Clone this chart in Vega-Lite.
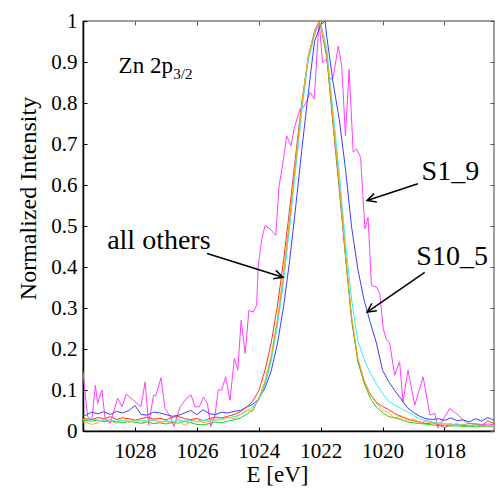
{
 "$schema": "https://vega.github.io/schema/vega-lite/v6.json",
 "width": 411, "height": 410,
 "autosize": {"type": "none"},
 "padding": {"left": 83, "top": 21, "right": 6, "bottom": 60},
 "background": "white",
 "config": {"view": {"stroke": "#7f7f7f", "strokeWidth": 1.5}, "font": "Liberation Serif, Times New Roman, Times, serif"},
 "datasets": {
  "spectra": [
   {"s":"S10_5","E":1029.8,"I":0.036},{"s":"S10_5","E":1029.6,"I":0.038},{"s":"S10_5","E":1029.4,"I":0.046},{"s":"S10_5","E":1029.2,"I":0.042},{"s":"S10_5","E":1029.0,"I":0.047},{"s":"S10_5","E":1028.8,"I":0.04},{"s":"S10_5","E":1028.6,"I":0.048},{"s":"S10_5","E":1028.4,"I":0.044},{"s":"S10_5","E":1028.2,"I":0.05},{"s":"S10_5","E":1028.0,"I":0.062},{"s":"S10_5","E":1027.8,"I":0.04},{"s":"S10_5","E":1027.6,"I":0.039},{"s":"S10_5","E":1027.4,"I":0.046},{"s":"S10_5","E":1027.2,"I":0.044},{"s":"S10_5","E":1027.0,"I":0.04},{"s":"S10_5","E":1026.8,"I":0.036},{"s":"S10_5","E":1026.6,"I":0.038},{"s":"S10_5","E":1026.4,"I":0.044},{"s":"S10_5","E":1026.2,"I":0.05},{"s":"S10_5","E":1026.0,"I":0.04},{"s":"S10_5","E":1025.8,"I":0.052},{"s":"S10_5","E":1025.6,"I":0.042},{"s":"S10_5","E":1025.4,"I":0.04},{"s":"S10_5","E":1025.2,"I":0.046},{"s":"S10_5","E":1025.0,"I":0.044},{"s":"S10_5","E":1024.8,"I":0.048},{"s":"S10_5","E":1024.6,"I":0.05},{"s":"S10_5","E":1024.4,"I":0.058},{"s":"S10_5","E":1024.2,"I":0.065},{"s":"S10_5","E":1024.0,"I":0.078},{"s":"S10_5","E":1023.8,"I":0.105},{"s":"S10_5","E":1023.6,"I":0.146},{"s":"S10_5","E":1023.4,"I":0.212},{"s":"S10_5","E":1023.2,"I":0.303},{"s":"S10_5","E":1023.0,"I":0.417},{"s":"S10_5","E":1022.8,"I":0.552},{"s":"S10_5","E":1022.6,"I":0.693},{"s":"S10_5","E":1022.4,"I":0.825},{"s":"S10_5","E":1022.2,"I":0.95},{"s":"S10_5","E":1022.0,"I":0.99},{"s":"S10_5","E":1021.86,"I":1.0},{"s":"S10_5","E":1021.8,"I":0.96},{"s":"S10_5","E":1021.6,"I":0.85},{"s":"S10_5","E":1021.4,"I":0.76},{"s":"S10_5","E":1021.2,"I":0.64},{"s":"S10_5","E":1021.0,"I":0.497},{"s":"S10_5","E":1020.8,"I":0.395},{"s":"S10_5","E":1020.6,"I":0.32},{"s":"S10_5","E":1020.4,"I":0.265},{"s":"S10_5","E":1020.2,"I":0.215},{"s":"S10_5","E":1020.0,"I":0.148},{"s":"S10_5","E":1019.8,"I":0.12},{"s":"S10_5","E":1019.6,"I":0.098},{"s":"S10_5","E":1019.4,"I":0.078},{"s":"S10_5","E":1019.2,"I":0.057},{"s":"S10_5","E":1019.0,"I":0.045},{"s":"S10_5","E":1018.8,"I":0.036},{"s":"S10_5","E":1018.6,"I":0.03},{"s":"S10_5","E":1018.4,"I":0.028},{"s":"S10_5","E":1018.2,"I":0.03},{"s":"S10_5","E":1018.0,"I":0.026},{"s":"S10_5","E":1017.8,"I":0.032},{"s":"S10_5","E":1017.6,"I":0.025},{"s":"S10_5","E":1017.4,"I":0.027},{"s":"S10_5","E":1017.2,"I":0.022},{"s":"S10_5","E":1017.0,"I":0.03},{"s":"S10_5","E":1016.8,"I":0.024},{"s":"S10_5","E":1016.6,"I":0.033},{"s":"S10_5","E":1016.4,"I":0.026},

   {"s":"S2","E":1029.8,"I":0.031},{"s":"S2","E":1029.6,"I":0.03},{"s":"S2","E":1029.4,"I":0.028},{"s":"S2","E":1029.2,"I":0.033},{"s":"S2","E":1029.0,"I":0.03},{"s":"S2","E":1028.8,"I":0.035},{"s":"S2","E":1028.6,"I":0.028},{"s":"S2","E":1028.4,"I":0.032},{"s":"S2","E":1028.2,"I":0.03},{"s":"S2","E":1028.0,"I":0.026},{"s":"S2","E":1027.8,"I":0.03},{"s":"S2","E":1027.6,"I":0.034},{"s":"S2","E":1027.4,"I":0.029},{"s":"S2","E":1027.2,"I":0.031},{"s":"S2","E":1027.0,"I":0.027},{"s":"S2","E":1026.8,"I":0.033},{"s":"S2","E":1026.6,"I":0.036},{"s":"S2","E":1026.4,"I":0.03},{"s":"S2","E":1026.2,"I":0.028},{"s":"S2","E":1026.0,"I":0.031},{"s":"S2","E":1025.8,"I":0.025},{"s":"S2","E":1025.6,"I":0.03},{"s":"S2","E":1025.4,"I":0.034},{"s":"S2","E":1025.2,"I":0.032},{"s":"S2","E":1025.0,"I":0.036},{"s":"S2","E":1024.8,"I":0.04},{"s":"S2","E":1024.6,"I":0.047},{"s":"S2","E":1024.4,"I":0.058},{"s":"S2","E":1024.2,"I":0.072},{"s":"S2","E":1024.0,"I":0.098},{"s":"S2","E":1023.8,"I":0.148},{"s":"S2","E":1023.6,"I":0.215},{"s":"S2","E":1023.4,"I":0.304},{"s":"S2","E":1023.2,"I":0.416},{"s":"S2","E":1023.0,"I":0.543},{"s":"S2","E":1022.8,"I":0.678},{"s":"S2","E":1022.6,"I":0.807},{"s":"S2","E":1022.4,"I":0.912},{"s":"S2","E":1022.2,"I":0.975},{"s":"S2","E":1022.06,"I":0.998},{"s":"S2","E":1022.0,"I":0.99},{"s":"S2","E":1021.8,"I":0.91},{"s":"S2","E":1021.6,"I":0.745},{"s":"S2","E":1021.4,"I":0.59},{"s":"S2","E":1021.2,"I":0.425},{"s":"S2","E":1021.0,"I":0.27},{"s":"S2","E":1020.8,"I":0.172},{"s":"S2","E":1020.6,"I":0.122},{"s":"S2","E":1020.4,"I":0.09},{"s":"S2","E":1020.2,"I":0.07},{"s":"S2","E":1020.0,"I":0.06},{"s":"S2","E":1019.8,"I":0.052},{"s":"S2","E":1019.6,"I":0.042},{"s":"S2","E":1019.4,"I":0.035},{"s":"S2","E":1019.2,"I":0.03},{"s":"S2","E":1019.0,"I":0.025},{"s":"S2","E":1018.8,"I":0.022},{"s":"S2","E":1018.6,"I":0.018},{"s":"S2","E":1018.4,"I":0.02},{"s":"S2","E":1018.2,"I":0.016},{"s":"S2","E":1018.0,"I":0.008},{"s":"S2","E":1017.8,"I":0.015},{"s":"S2","E":1017.6,"I":0.017},{"s":"S2","E":1017.4,"I":0.014},{"s":"S2","E":1017.2,"I":0.012},{"s":"S2","E":1017.0,"I":0.016},{"s":"S2","E":1016.8,"I":0.013},{"s":"S2","E":1016.6,"I":0.025},{"s":"S2","E":1016.4,"I":0.018},

   {"s":"S3","E":1029.8,"I":0.025},{"s":"S3","E":1029.6,"I":0.026},{"s":"S3","E":1029.4,"I":0.024},{"s":"S3","E":1029.2,"I":0.027},{"s":"S3","E":1029.0,"I":0.023},{"s":"S3","E":1028.8,"I":0.025},{"s":"S3","E":1028.6,"I":0.022},{"s":"S3","E":1028.4,"I":0.02},{"s":"S3","E":1028.2,"I":0.024},{"s":"S3","E":1028.0,"I":0.021},{"s":"S3","E":1027.8,"I":0.019},{"s":"S3","E":1027.6,"I":0.022},{"s":"S3","E":1027.4,"I":0.018},{"s":"S3","E":1027.2,"I":0.02},{"s":"S3","E":1027.0,"I":0.017},{"s":"S3","E":1026.8,"I":0.021},{"s":"S3","E":1026.6,"I":0.019},{"s":"S3","E":1026.4,"I":0.024},{"s":"S3","E":1026.2,"I":0.02},{"s":"S3","E":1026.0,"I":0.016},{"s":"S3","E":1025.8,"I":0.015},{"s":"S3","E":1025.6,"I":0.018},{"s":"S3","E":1025.4,"I":0.022},{"s":"S3","E":1025.2,"I":0.02},{"s":"S3","E":1025.0,"I":0.024},{"s":"S3","E":1024.8,"I":0.027},{"s":"S3","E":1024.6,"I":0.032},{"s":"S3","E":1024.4,"I":0.04},{"s":"S3","E":1024.2,"I":0.052},{"s":"S3","E":1024.0,"I":0.078},{"s":"S3","E":1023.8,"I":0.117},{"s":"S3","E":1023.6,"I":0.178},{"s":"S3","E":1023.4,"I":0.266},{"s":"S3","E":1023.2,"I":0.379},{"s":"S3","E":1023.0,"I":0.514},{"s":"S3","E":1022.8,"I":0.659},{"s":"S3","E":1022.6,"I":0.799},{"s":"S3","E":1022.4,"I":0.913},{"s":"S3","E":1022.2,"I":0.968},{"s":"S3","E":1022.06,"I":0.995},{"s":"S3","E":1022.0,"I":0.992},{"s":"S3","E":1021.8,"I":0.915},{"s":"S3","E":1021.6,"I":0.755},{"s":"S3","E":1021.4,"I":0.6},{"s":"S3","E":1021.2,"I":0.43},{"s":"S3","E":1021.0,"I":0.275},{"s":"S3","E":1020.8,"I":0.17},{"s":"S3","E":1020.6,"I":0.118},{"s":"S3","E":1020.4,"I":0.08},{"s":"S3","E":1020.2,"I":0.058},{"s":"S3","E":1020.0,"I":0.045},{"s":"S3","E":1019.8,"I":0.035},{"s":"S3","E":1019.6,"I":0.032},{"s":"S3","E":1019.4,"I":0.028},{"s":"S3","E":1019.2,"I":0.022},{"s":"S3","E":1019.0,"I":0.02},{"s":"S3","E":1018.8,"I":0.018},{"s":"S3","E":1018.6,"I":0.017},{"s":"S3","E":1018.4,"I":0.015},{"s":"S3","E":1018.2,"I":0.013},{"s":"S3","E":1018.0,"I":0.014},{"s":"S3","E":1017.8,"I":0.012},{"s":"S3","E":1017.6,"I":0.013},{"s":"S3","E":1017.4,"I":0.011},{"s":"S3","E":1017.2,"I":0.012},{"s":"S3","E":1017.0,"I":0.01},{"s":"S3","E":1016.8,"I":0.011},{"s":"S3","E":1016.6,"I":0.012},{"s":"S3","E":1016.4,"I":0.01},

   {"s":"S4","E":1029.8,"I":0.027},{"s":"S4","E":1029.6,"I":0.028},{"s":"S4","E":1029.4,"I":0.03},{"s":"S4","E":1029.2,"I":0.026},{"s":"S4","E":1029.0,"I":0.025},{"s":"S4","E":1028.8,"I":0.027},{"s":"S4","E":1028.6,"I":0.024},{"s":"S4","E":1028.4,"I":0.026},{"s":"S4","E":1028.2,"I":0.023},{"s":"S4","E":1028.0,"I":0.025},{"s":"S4","E":1027.8,"I":0.027},{"s":"S4","E":1027.6,"I":0.024},{"s":"S4","E":1027.4,"I":0.026},{"s":"S4","E":1027.2,"I":0.022},{"s":"S4","E":1027.0,"I":0.025},{"s":"S4","E":1026.8,"I":0.023},{"s":"S4","E":1026.6,"I":0.027},{"s":"S4","E":1026.4,"I":0.024},{"s":"S4","E":1026.2,"I":0.026},{"s":"S4","E":1026.0,"I":0.022},{"s":"S4","E":1025.8,"I":0.025},{"s":"S4","E":1025.6,"I":0.028},{"s":"S4","E":1025.4,"I":0.026},{"s":"S4","E":1025.2,"I":0.03},{"s":"S4","E":1025.0,"I":0.032},{"s":"S4","E":1024.8,"I":0.035},{"s":"S4","E":1024.6,"I":0.04},{"s":"S4","E":1024.4,"I":0.048},{"s":"S4","E":1024.2,"I":0.058},{"s":"S4","E":1024.0,"I":0.075},{"s":"S4","E":1023.8,"I":0.112},{"s":"S4","E":1023.6,"I":0.17},{"s":"S4","E":1023.4,"I":0.255},{"s":"S4","E":1023.2,"I":0.365},{"s":"S4","E":1023.0,"I":0.5},{"s":"S4","E":1022.8,"I":0.645},{"s":"S4","E":1022.6,"I":0.785},{"s":"S4","E":1022.4,"I":0.905},{"s":"S4","E":1022.2,"I":0.965},{"s":"S4","E":1022.06,"I":0.995},{"s":"S4","E":1022.0,"I":0.995},{"s":"S4","E":1021.8,"I":0.93},{"s":"S4","E":1021.6,"I":0.78},{"s":"S4","E":1021.4,"I":0.63},{"s":"S4","E":1021.2,"I":0.46},{"s":"S4","E":1021.0,"I":0.32},{"s":"S4","E":1020.8,"I":0.22},{"s":"S4","E":1020.6,"I":0.175},{"s":"S4","E":1020.4,"I":0.142},{"s":"S4","E":1020.2,"I":0.115},{"s":"S4","E":1020.0,"I":0.092},{"s":"S4","E":1019.8,"I":0.072},{"s":"S4","E":1019.6,"I":0.063},{"s":"S4","E":1019.4,"I":0.055},{"s":"S4","E":1019.2,"I":0.047},{"s":"S4","E":1019.0,"I":0.038},{"s":"S4","E":1018.8,"I":0.03},{"s":"S4","E":1018.6,"I":0.026},{"s":"S4","E":1018.4,"I":0.022},{"s":"S4","E":1018.2,"I":0.02},{"s":"S4","E":1018.0,"I":0.018},{"s":"S4","E":1017.8,"I":0.017},{"s":"S4","E":1017.6,"I":0.015},{"s":"S4","E":1017.4,"I":0.016},{"s":"S4","E":1017.2,"I":0.014},{"s":"S4","E":1017.0,"I":0.015},{"s":"S4","E":1016.8,"I":0.013},{"s":"S4","E":1016.6,"I":0.014},{"s":"S4","E":1016.4,"I":0.012},

   {"s":"S5","E":1029.8,"I":0.02},{"s":"S5","E":1029.6,"I":0.022},{"s":"S5","E":1029.4,"I":0.016},{"s":"S5","E":1029.2,"I":0.02},{"s":"S5","E":1029.0,"I":0.03},{"s":"S5","E":1028.8,"I":0.025},{"s":"S5","E":1028.6,"I":0.018},{"s":"S5","E":1028.4,"I":0.035},{"s":"S5","E":1028.2,"I":0.02},{"s":"S5","E":1028.0,"I":0.028},{"s":"S5","E":1027.8,"I":0.017},{"s":"S5","E":1027.6,"I":0.022},{"s":"S5","E":1027.4,"I":0.03},{"s":"S5","E":1027.2,"I":0.02},{"s":"S5","E":1027.0,"I":0.024},{"s":"S5","E":1026.8,"I":0.018},{"s":"S5","E":1026.6,"I":0.026},{"s":"S5","E":1026.4,"I":0.014},{"s":"S5","E":1026.2,"I":0.022},{"s":"S5","E":1026.0,"I":0.03},{"s":"S5","E":1025.8,"I":0.02},{"s":"S5","E":1025.6,"I":0.024},{"s":"S5","E":1025.4,"I":0.03},{"s":"S5","E":1025.2,"I":0.026},{"s":"S5","E":1025.0,"I":0.034},{"s":"S5","E":1024.8,"I":0.03},{"s":"S5","E":1024.6,"I":0.04},{"s":"S5","E":1024.4,"I":0.05},{"s":"S5","E":1024.2,"I":0.048},{"s":"S5","E":1024.0,"I":0.08},{"s":"S5","E":1023.8,"I":0.122},{"s":"S5","E":1023.6,"I":0.184},{"s":"S5","E":1023.4,"I":0.272},{"s":"S5","E":1023.2,"I":0.385},{"s":"S5","E":1023.0,"I":0.52},{"s":"S5","E":1022.8,"I":0.664},{"s":"S5","E":1022.6,"I":0.802},{"s":"S5","E":1022.4,"I":0.915},{"s":"S5","E":1022.2,"I":0.97},{"s":"S5","E":1022.06,"I":0.996},{"s":"S5","E":1022.0,"I":0.99},{"s":"S5","E":1021.8,"I":0.92},{"s":"S5","E":1021.6,"I":0.76},{"s":"S5","E":1021.4,"I":0.605},{"s":"S5","E":1021.2,"I":0.435},{"s":"S5","E":1021.0,"I":0.28},{"s":"S5","E":1020.8,"I":0.178},{"s":"S5","E":1020.6,"I":0.125},{"s":"S5","E":1020.4,"I":0.088},{"s":"S5","E":1020.2,"I":0.068},{"s":"S5","E":1020.0,"I":0.05},{"s":"S5","E":1019.8,"I":0.045},{"s":"S5","E":1019.6,"I":0.03},{"s":"S5","E":1019.4,"I":0.038},{"s":"S5","E":1019.2,"I":0.025},{"s":"S5","E":1019.0,"I":0.03},{"s":"S5","E":1018.8,"I":0.02},{"s":"S5","E":1018.6,"I":0.024},{"s":"S5","E":1018.4,"I":0.016},{"s":"S5","E":1018.2,"I":0.02},{"s":"S5","E":1018.0,"I":0.014},{"s":"S5","E":1017.8,"I":0.018},{"s":"S5","E":1017.6,"I":0.012},{"s":"S5","E":1017.4,"I":0.016},{"s":"S5","E":1017.2,"I":0.013},{"s":"S5","E":1017.0,"I":0.015},{"s":"S5","E":1016.8,"I":0.012},{"s":"S5","E":1016.6,"I":0.014},{"s":"S5","E":1016.4,"I":0.011}
  ],
  "s19": [
   {"s":"S1_9","E":1029.75,"I":0.16},{"s":"S1_9","E":1029.68,"I":0.144},{"s":"S1_9","E":1029.53,"I":0.035},{"s":"S1_9","E":1029.39,"I":0.027},{"s":"S1_9","E":1029.28,"I":0.112},{"s":"S1_9","E":1029.21,"I":0.067},{"s":"S1_9","E":1029.07,"I":0.1},{"s":"S1_9","E":1028.96,"I":0.027},{"s":"S1_9","E":1028.8,"I":0.019},{"s":"S1_9","E":1028.56,"I":0.08},{"s":"S1_9","E":1028.42,"I":0.059},{"s":"S1_9","E":1028.28,"I":0.09},{"s":"S1_9","E":1028.05,"I":0.075},{"s":"S1_9","E":1027.81,"I":0.059},{"s":"S1_9","E":1027.67,"I":0.12},{"s":"S1_9","E":1027.56,"I":0.015},{"s":"S1_9","E":1027.4,"I":0.088},{"s":"S1_9","E":1027.33,"I":0.086},{"s":"S1_9","E":1027.16,"I":0.13},{"s":"S1_9","E":1027.03,"I":0.055},{"s":"S1_9","E":1026.86,"I":0.035},{"s":"S1_9","E":1026.74,"I":0.011},{"s":"S1_9","E":1026.54,"I":0.059},{"s":"S1_9","E":1026.33,"I":0.08},{"s":"S1_9","E":1026.19,"I":0.088},{"s":"S1_9","E":1026.06,"I":0.059},{"s":"S1_9","E":1025.92,"I":0.059},{"s":"S1_9","E":1025.79,"I":0.083},{"s":"S1_9","E":1025.66,"I":0.067},{"s":"S1_9","E":1025.55,"I":0.011},{"s":"S1_9","E":1025.41,"I":0.04},{"s":"S1_9","E":1025.31,"I":0.1},{"s":"S1_9","E":1025.2,"I":0.1},{"s":"S1_9","E":1025.07,"I":0.132},{"s":"S1_9","E":1024.93,"I":0.075},{"s":"S1_9","E":1024.79,"I":0.177},{"s":"S1_9","E":1024.68,"I":0.148},{"s":"S1_9","E":1024.57,"I":0.27},{"s":"S1_9","E":1024.44,"I":0.189},{"s":"S1_9","E":1024.32,"I":0.294},{"s":"S1_9","E":1024.18,"I":0.29},{"s":"S1_9","E":1024.07,"I":0.307},{"s":"S1_9","E":1024.02,"I":0.4},{"s":"S1_9","E":1023.91,"I":0.465},{"s":"S1_9","E":1023.8,"I":0.501},{"s":"S1_9","E":1023.64,"I":0.493},{"s":"S1_9","E":1023.45,"I":0.477},{"s":"S1_9","E":1023.35,"I":0.594},{"s":"S1_9","E":1023.21,"I":0.659},{"s":"S1_9","E":1023.1,"I":0.72},{"s":"S1_9","E":1022.96,"I":0.696},{"s":"S1_9","E":1022.85,"I":0.74},{"s":"S1_9","E":1022.67,"I":0.785},{"s":"S1_9","E":1022.56,"I":0.789},{"s":"S1_9","E":1022.45,"I":0.805},{"s":"S1_9","E":1022.34,"I":0.826},{"s":"S1_9","E":1022.21,"I":0.81},{"s":"S1_9","E":1022.05,"I":1.0},{"s":"S1_9","E":1021.94,"I":0.899},{"s":"S1_9","E":1021.81,"I":0.907},{"s":"S1_9","E":1021.7,"I":0.858},{"s":"S1_9","E":1021.6,"I":0.862},{"s":"S1_9","E":1021.43,"I":0.939},{"s":"S1_9","E":1021.32,"I":0.89},{"s":"S1_9","E":1021.2,"I":0.72},{"s":"S1_9","E":1021.08,"I":0.882},{"s":"S1_9","E":1020.95,"I":0.68},{"s":"S1_9","E":1020.84,"I":0.688},{"s":"S1_9","E":1020.71,"I":0.667},{"s":"S1_9","E":1020.63,"I":0.566},{"s":"S1_9","E":1020.57,"I":0.493},{"s":"S1_9","E":1020.47,"I":0.521},{"s":"S1_9","E":1020.36,"I":0.355},{"s":"S1_9","E":1020.2,"I":0.351},{"s":"S1_9","E":1020.09,"I":0.335},{"s":"S1_9","E":1019.98,"I":0.25},{"s":"S1_9","E":1019.87,"I":0.221},{"s":"S1_9","E":1019.77,"I":0.215},{"s":"S1_9","E":1019.61,"I":0.136},{"s":"S1_9","E":1019.45,"I":0.169},{"s":"S1_9","E":1019.34,"I":0.071},{"s":"S1_9","E":1019.18,"I":0.148},{"s":"S1_9","E":1018.96,"I":0.063},{"s":"S1_9","E":1018.69,"I":0.132},{"s":"S1_9","E":1018.47,"I":0.039},{"s":"S1_9","E":1018.31,"I":0.043},{"s":"S1_9","E":1018.21,"I":0.007},{"s":"S1_9","E":1018.05,"I":0.027},{"s":"S1_9","E":1017.83,"I":0.055},{"s":"S1_9","E":1017.56,"I":0.039},{"s":"S1_9","E":1017.29,"I":0.019},{"s":"S1_9","E":1017.05,"I":0.018},{"s":"S1_9","E":1016.8,"I":0.016},{"s":"S1_9","E":1016.55,"I":0.017},{"s":"S1_9","E":1016.4,"I":0.015}
  ],
  "arrows": [
   {"name":"others","x1":1025.67,"y1":0.433,"x2":1023.22,"y2":0.375},
   {"name":"S1_9","x1":1018.86,"y1":0.603,"x2":1020.5,"y2":0.562},
   {"name":"S10_5","x1":1018.64,"y1":0.387,"x2":1020.5,"y2":0.29}
  ],
  "labels": [
   {"kind":"big","t":"all others","E":1028.9,"I":0.443},
   {"kind":"big","t":"S1_9","E":1018.74,"I":0.611},
   {"kind":"big","t":"S10_5","E":1018.91,"I":0.404},
   {"kind":"main","t":"Zn 2p","E":1028.53,"I":0.872},
   {"kind":"sub","t":"3/2","E":1026.76,"I":0.858}
  ]
 },
 "resolve": {"axis": {"x": "independent", "y": "independent"}},
 "layer": [
  {
   "data": {"name": "s19"},
   "mark": {"type": "line", "strokeWidth": 1, "clip": true},
   "encoding": {
    "x": {"field": "E", "type": "quantitative", "scale": {"domain": [1016.4, 1029.68], "reverse": true, "nice": false, "zero": false},
          "axis": {"orient": "top", "values": [1018, 1020, 1022, 1024, 1026, 1028], "labels": false, "title": null, "domain": false, "grid": false, "tickSize": -4, "tickColor": "#555555"}},
    "y": {"field": "I", "type": "quantitative", "scale": {"domain": [0, 1], "nice": false, "zero": false},
          "axis": {"orient": "right", "values": [0, 0.1, 0.2, 0.3, 0.4, 0.5, 0.6, 0.7, 0.8, 0.9, 1], "labels": false, "title": null, "domain": false, "grid": false, "tickSize": -4, "tickColor": "#555555"}},
    "color": {"field": "s", "type": "nominal", "legend": null,
              "scale": {"domain": ["S1_9", "S10_5", "S2", "S3", "S4", "S5"], "range": ["#ff3dff", "#3d3dff", "#ff3030", "#1fd01f", "#30eeee", "#ffa820"]}}
   }
  },
  {
   "data": {"name": "spectra"},
   "mark": {"type": "line", "strokeWidth": 1, "clip": true},
   "encoding": {
    "x": {"field": "E", "type": "quantitative", "scale": {"domain": [1016.4, 1029.68], "reverse": true, "nice": false, "zero": false},
          "axis": {"orient": "bottom", "values": [1018, 1020, 1022, 1024, 1026, 1028], "format": "d", "title": "E [eV]", "grid": false,
                   "domainColor": "black", "domainWidth": 1.5, "tickSize": -4, "tickColor": "black", "labelPadding": 13,
                   "labelFont": "Liberation Serif, Times New Roman, Times, serif", "labelFontSize": 21, "labelColor": "black",
                   "titleFont": "Liberation Serif, Times New Roman, Times, serif", "titleFontSize": 23, "titleFontWeight": "normal", "titleColor": "black",
                   "titleX": 194, "titleY": 50, "titleBaseline": "alphabetic", "titleAlign": "center"}},
    "y": {"field": "I", "type": "quantitative", "scale": {"domain": [0, 1], "nice": false, "zero": false},
          "axis": {"orient": "left", "values": [0, 0.1, 0.2, 0.3, 0.4, 0.5, 0.6, 0.7, 0.8, 0.9, 1], "format": "~g", "title": "Normalized Intensity", "grid": false,
                   "domainColor": "black", "domainWidth": 1.5, "tickSize": -4, "tickColor": "black", "labelPadding": 10,
                   "labelFont": "Liberation Serif, Times New Roman, Times, serif", "labelFontSize": 21, "labelColor": "black",
                   "titleFont": "Liberation Serif, Times New Roman, Times, serif", "titleFontSize": 24, "titleFontWeight": "normal", "titleColor": "black",
                   "titleX": -48, "titleY": 177, "titleBaseline": "alphabetic", "titleAlign": "center"}},
    "color": {"field": "s", "type": "nominal", "legend": null,
              "scale": {"domain": ["S1_9", "S10_5", "S2", "S3", "S4", "S5"], "range": ["#ff3dff", "#3d3dff", "#ff3030", "#1fd01f", "#30eeee", "#ffa820"]}},
    "order": {"field": "s", "sort": "ascending"}
   }
  },
  {
   "data": {"name": "arrows"},
   "mark": {"type": "rule", "color": "black", "strokeWidth": 1.5},
   "encoding": {
    "x": {"field": "x1", "type": "quantitative", "scale": {"domain": [1016.4, 1029.68], "reverse": true, "nice": false, "zero": false}, "axis": null},
    "x2": {"field": "x2"},
    "y": {"field": "y1", "type": "quantitative", "scale": {"domain": [0, 1], "nice": false, "zero": false}, "axis": null},
    "y2": {"field": "y2"}
   }
  },
  {
   "data": {"name": "arrows"},
   "transform": [{"filter": "datum.name === 'others'"}],
   "mark": {"type": "point", "shape": "M-0.55,1.1L0,0L0.55,1.1", "size": 256, "angle": 107.5, "filled": false, "stroke": "black", "strokeWidth": 1.5, "opacity": 1},
   "encoding": {
    "x": {"field": "x2", "type": "quantitative", "scale": {"domain": [1016.4, 1029.68], "reverse": true, "nice": false, "zero": false}, "axis": null},
    "y": {"field": "y2", "type": "quantitative", "scale": {"domain": [0, 1], "nice": false, "zero": false}, "axis": null}
   }
  },
  {
   "data": {"name": "arrows"},
   "transform": [{"filter": "datum.name === 'S1_9'"}],
   "mark": {"type": "point", "shape": "M-0.55,1.1L0,0L0.55,1.1", "size": 256, "angle": 251.6, "filled": false, "stroke": "black", "strokeWidth": 1.5, "opacity": 1},
   "encoding": {
    "x": {"field": "x2", "type": "quantitative", "scale": {"domain": [1016.4, 1029.68], "reverse": true, "nice": false, "zero": false}, "axis": null},
    "y": {"field": "y2", "type": "quantitative", "scale": {"domain": [0, 1], "nice": false, "zero": false}, "axis": null}
   }
  },
  {
   "data": {"name": "arrows"},
   "transform": [{"filter": "datum.name === 'S10_5'"}],
   "mark": {"type": "point", "shape": "M-0.55,1.1L0,0L0.55,1.1", "size": 256, "angle": 235.4, "filled": false, "stroke": "black", "strokeWidth": 1.5, "opacity": 1},
   "encoding": {
    "x": {"field": "x2", "type": "quantitative", "scale": {"domain": [1016.4, 1029.68], "reverse": true, "nice": false, "zero": false}, "axis": null},
    "y": {"field": "y2", "type": "quantitative", "scale": {"domain": [0, 1], "nice": false, "zero": false}, "axis": null}
   }
  },
  {
   "data": {"name": "labels"},
   "transform": [{"filter": "datum.kind === 'big'"}],
   "mark": {"type": "text", "font": "Liberation Serif, Times New Roman, Times, serif", "fontSize": 28, "align": "left", "baseline": "alphabetic", "color": "black"},
   "encoding": {
    "x": {"field": "E", "type": "quantitative", "scale": {"domain": [1016.4, 1029.68], "reverse": true, "nice": false, "zero": false}, "axis": null},
    "y": {"field": "I", "type": "quantitative", "scale": {"domain": [0, 1], "nice": false, "zero": false}, "axis": null},
    "text": {"field": "t"}
   }
  },
  {
   "data": {"name": "labels"},
   "transform": [{"filter": "datum.kind === 'main'"}],
   "mark": {"type": "text", "font": "Liberation Serif, Times New Roman, Times, serif", "fontSize": 23, "align": "left", "baseline": "alphabetic", "color": "black"},
   "encoding": {
    "x": {"field": "E", "type": "quantitative", "scale": {"domain": [1016.4, 1029.68], "reverse": true, "nice": false, "zero": false}, "axis": null},
    "y": {"field": "I", "type": "quantitative", "scale": {"domain": [0, 1], "nice": false, "zero": false}, "axis": null},
    "text": {"field": "t"}
   }
  },
  {
   "data": {"name": "labels"},
   "transform": [{"filter": "datum.kind === 'sub'"}],
   "mark": {"type": "text", "font": "Liberation Serif, Times New Roman, Times, serif", "fontSize": 15, "align": "left", "baseline": "alphabetic", "color": "black"},
   "encoding": {
    "x": {"field": "E", "type": "quantitative", "scale": {"domain": [1016.4, 1029.68], "reverse": true, "nice": false, "zero": false}, "axis": null},
    "y": {"field": "I", "type": "quantitative", "scale": {"domain": [0, 1], "nice": false, "zero": false}, "axis": null},
    "text": {"field": "t"}
   }
  }
 ]
}
